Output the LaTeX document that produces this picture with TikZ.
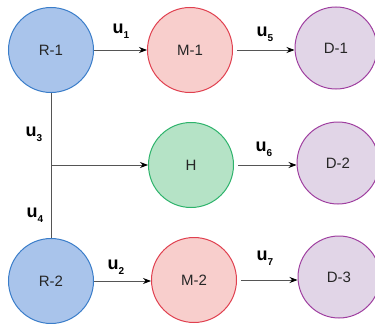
\documentclass[tikz,border=0pt]{standalone}
\usepackage{fontspec}
\setmainfont{Liberation Sans}
\usetikzlibrary{arrows.meta}
\definecolor{rfill}{HTML}{A9C4EB}\definecolor{rdraw}{HTML}{3A7DC9}
\definecolor{mfill}{HTML}{F8CECC}\definecolor{mdraw}{HTML}{E0404F}
\definecolor{hfill}{HTML}{B5E3C6}\definecolor{hdraw}{HTML}{2DB36B}
\definecolor{dfill}{HTML}{E1D5E7}\definecolor{ddraw}{HTML}{9F3FA0}
\definecolor{lin}{HTML}{555555}
\newcommand{\ulab}[1]{u\raisebox{-5pt}{\fontsize{10}{10}\selectfont\bfseries #1}}
\tikzset{
  st/.style={circle,minimum size=85pt,inner sep=0pt,line width=1pt,font=\fontsize{15}{15}\selectfont,text=black!85},
  rn/.style={st,fill=rfill,draw=rdraw},
  mn/.style={st,fill=mfill,draw=mdraw},
  hn/.style={st,fill=hfill,draw=hdraw},
  dn/.style={st,fill=dfill,draw=ddraw,minimum size=82pt},
  con/.style={draw=lin,line width=0.8pt},
  arr/.style={con,-{Stealth[length=8pt,width=6pt,color=black]}},
  lab/.style={font=\fontsize{18}{18}\selectfont\bfseries,inner sep=0pt}
}
\begin{document}
\begin{tikzpicture}[x=1pt,y=-1pt]
\useasboundingbox (0,0) rectangle (375,324);
\node[rn] (r1) at (51,50) {R-1};
\node[mn] (m1) at (190,50) {M-1};
\node[dn] (d1) at (336,48) {D-1};
\node[hn] (h) at (191,165) {H};
\node[dn] (d2) at (338,163) {D-2};
\node[rn] (r2) at (51,281) {R-2};
\node[mn] (m2) at (194,280) {M-2};
\node[dn] (d3) at (339,277) {D-3};
\draw[arr] (r1.east) -- (m1.west);
\draw[arr] ([xshift=4pt]m1.east) -- (d1.west |- m1.east);
\draw[arr] ([xshift=4pt]h.east) -- (d2.west |- h.east);
\draw[arr] (r2.east) -- (m2.west |- r2.east);
\draw[arr] ([xshift=4pt]m2.east) -- (d3.west |- m2.east);
\draw[con] (r1.south) -- (r2.north);
\coordinate (j) at (r1.south |- h.west);
\draw[arr] (j) -- (h.west);
\node[lab] (u1) at (121,31) {\ulab{1}};
\node[lab] (u5) at (265,34) {\ulab{5}};
\node[lab] (u3) at (34,134) {\ulab{3}};
\node[lab] (u6) at (264,149) {\ulab{6}};
\node[lab] (u4) at (35,215) {\ulab{4}};
\node[lab] (u2) at (116,267) {\ulab{2}};
\node[lab] (u7) at (265,258) {\ulab{7}};
\end{tikzpicture}
\end{document}
